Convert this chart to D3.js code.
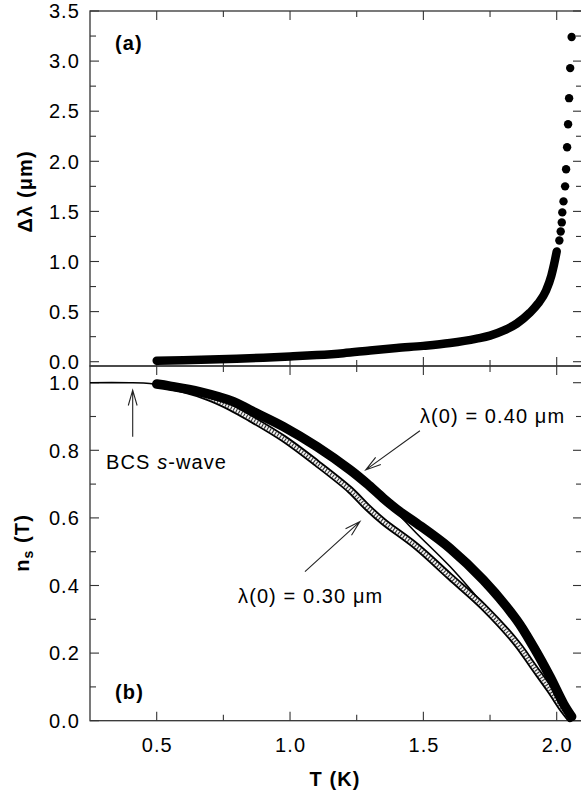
<!DOCTYPE html>
<html><head><meta charset="utf-8">
<script src="https://cdn.jsdelivr.net/npm/d3@7"></script>
<style>
html,body{margin:0;padding:0;background:#fff;}
text{font-family:"Liberation Sans",Arial,sans-serif;fill:#000;letter-spacing:1.1px;}
</style></head>
<body><svg id="c" width="581" height="798"></svg>
<script>
// ---- data ----
// panel (a): dense band of Δλ(T)
const T_a = [0.5,0.6,0.7,0.8,0.9,1.0,1.1,1.2,1.3,1.4,1.5,1.6,1.7,1.75,1.8,1.85,1.9,1.93,1.96,1.98,1.99,2.0];
const dl_a = [0.01,0.015,0.022,0.03,0.04,0.052,0.066,0.085,0.112,0.137,0.158,0.186,0.23,0.26,0.31,0.38,0.49,0.58,0.71,0.86,0.97,1.1];
// panel (a): sparse points near Tc
const T_a2 = [2.01,2.015,2.019,2.021,2.0255,2.0315,2.0352,2.039,2.0427,2.0465,2.0506,2.056];
const dl_a2 = [1.21,1.30,1.39,1.49,1.60,1.75,1.92,2.14,2.37,2.63,2.93,3.24];
// panel (b): BCS s-wave curve
const T_bcs = [0.25,0.4,0.45,0.5,0.6,0.8,1.0,1.2,1.35,1.4125,1.475,1.6,1.7,1.85,1.975,2.06];
const ns_bcs = [1.0,1.0,0.999,0.995,0.982,0.935,0.86,0.75,0.65,0.605,0.554,0.456,0.367,0.229,0.091,0.0];
// panel (b): λ(0) = 0.40 µm (filled)
const T_40 = [0.5,0.55,0.6625,0.7875,0.85,0.975,1.1,1.225,1.2875,1.35,1.4125,1.475,1.6,1.725,1.85,1.9125,1.975,2.025,2.056];
const ns_40 = [0.996,0.99,0.973,0.944,0.919,0.870,0.811,0.742,0.702,0.658,0.618,0.584,0.51,0.416,0.298,0.219,0.13,0.051,0.012];
// panel (b): λ(0) = 0.30 µm (open)
const T_30 = [0.5,0.6,0.7,0.775,0.85,0.975,1.1,1.225,1.2875,1.35,1.475,1.6,1.725,1.85,1.9125,1.975,2.025,2.05];
const ns_30 = [0.995,0.98,0.955,0.928,0.895,0.835,0.762,0.683,0.633,0.589,0.515,0.426,0.337,0.229,0.16,0.091,0.032,0.007];
// ticks
const xMajor = [0.5,1.0,1.5,2.0];
const xMinor = [0.75,1.25,1.75];
const yaMajor = [0,0.5,1.0,1.5,2.0,2.5,3.0,3.5];
const yaMinor = [0.25,0.75,1.25,1.75,2.25,2.75,3.25];
const ybMajor = [0,0.2,0.4,0.6,0.8,1.0];
const ybMinor = [0.1,0.3,0.5,0.7,0.9];

// ---- layout ----
const L = 90, R = 582, topA = 11, mid = 366, botB = 720.7;
const x = d3.scaleLinear().domain([0.5,2.0]).range([156.7,556.7]);
const ya = d3.scaleLinear().domain([0,3.5]).range([361.7,11]);
const yb = d3.scaleLinear().domain([0,1]).range([720.7,382.7]);
const svg = d3.select("#c");
const axisColor = "#333";
const FS = 20;

function frame(top, bottom, yScale, yMaj, yMin, fmt){
  const g = svg.append("g");
  const tk = (x1,y1,x2,y2)=>g.append("line").attr("x1",x1).attr("y1",y1).attr("x2",x2).attr("y2",y2).attr("stroke",axisColor).attr("stroke-width",1.1);
  xMajor.forEach(v=>{ tk(x(v),top,x(v),top+9); tk(x(v),bottom,x(v),bottom-9); });
  xMinor.forEach(v=>{ tk(x(v),top,x(v),top+6); tk(x(v),bottom,x(v),bottom-6); });
  yMaj.forEach(v=>{ tk(L,yScale(v),L+9,yScale(v)); tk(R,yScale(v),R-9,yScale(v)); });
  yMin.forEach(v=>{ tk(L,yScale(v),L+6,yScale(v)); tk(R,yScale(v),R-6,yScale(v)); });
  g.append("rect").attr("x",L).attr("y",top).attr("width",R-L).attr("height",bottom-top)
    .attr("fill","none").attr("stroke",axisColor).attr("stroke-width",1.3);
  yMaj.forEach(v=>{
    g.append("text").attr("x",80).attr("y",yScale(v)).attr("dy","0.36em")
     .attr("text-anchor","end").attr("font-size",FS).text(fmt(v));
  });
}
frame(topA, mid, ya, yaMajor, yaMinor, d3.format(".1f"));
frame(mid, botB, yb, ybMajor, ybMinor, d3.format(".1f"));

// x tick labels
xMajor.forEach(v=>{
  svg.append("text").attr("x",x(v)+0.6).attr("y",752).attr("text-anchor","middle")
    .attr("font-size",FS).text(d3.format(".1f")(v));
});

// clip paths
svg.append("clipPath").attr("id","clipA").append("rect").attr("x",L).attr("y",topA).attr("width",R-L).attr("height",mid-topA);
svg.append("clipPath").attr("id","clipB").append("rect").attr("x",L).attr("y",mid).attr("width",R-L).attr("height",botB-mid+6);

// ---- panel (a) ----
const gA = svg.append("g").attr("clip-path","url(#clipA)");
const lineA = d3.line().x((d,i)=>x(T_a[i])).y((d,i)=>ya(dl_a[i])).curve(d3.curveMonotoneX);
gA.append("path").attr("d",lineA(T_a)).attr("fill","none").attr("stroke","#000")
  .attr("stroke-width",8.5).attr("stroke-linecap","round").attr("stroke-linejoin","round");
gA.selectAll("circle.sp").data(T_a2).join("circle").attr("class","sp")
  .attr("cx",(d)=>x(d)).attr("cy",(d,i)=>ya(dl_a2[i])).attr("r",4.2).attr("fill","#000");

// ---- panel (b) ----
const gB = svg.append("g").attr("clip-path","url(#clipB)");
const mk = (Ts,Vs)=>d3.line().x((d,i)=>x(Ts[i])).y((d,i)=>yb(Vs[i])).curve(d3.curveCatmullRom.alpha(0.5))(Ts);
gB.append("path").attr("d",mk(T_bcs,ns_bcs)).attr("fill","none").attr("stroke","#000").attr("stroke-width",1.6);
const p30 = mk(T_30,ns_30);
gB.append("path").attr("d",p30).attr("fill","none").attr("stroke","#000").attr("stroke-width",7.5)
  .attr("stroke-linecap","round").attr("stroke-linejoin","round");
gB.append("path").attr("d",p30).attr("fill","none").attr("stroke","#f2f2f2").attr("stroke-width",3.8);
gB.append("path").attr("d",p30).attr("fill","none").attr("stroke","#333").attr("stroke-width",3.8)
  .attr("stroke-dasharray","1.1,1.9");
gB.append("path").attr("d",mk(T_40,ns_40)).attr("fill","none").attr("stroke","#000").attr("stroke-width",9.5)
  .attr("stroke-linecap","round").attr("stroke-linejoin","round");

// ---- annotations ----
function arrow(t0,v0,t1,v1){
  const x0=x(t0), y0=yb(v0), x1=x(t1), y1=yb(v1);
  const a = Math.atan2(y1-y0,x1-x0), len=16, ang=0.28;
  const p = `M${x0},${y0}L${x1},${y1}M${x1-len*Math.cos(a-ang)},${y1-len*Math.sin(a-ang)}L${x1},${y1}L${x1-len*Math.cos(a+ang)},${y1-len*Math.sin(a+ang)}`;
  svg.append("path").attr("d",p).attr("fill","none").attr("stroke","#222").attr("stroke-width",1.1);
}
arrow(0.41,0.84,0.41,0.978);
arrow(1.487,0.858,1.284,0.742);
arrow(1.056,0.441,1.262,0.589);

const t1 = svg.append("text").attr("x",x(0.31)).attr("y",yb(0.745)).attr("font-size",FS);
t1.append("tspan").text("BCS ");
t1.append("tspan").attr("font-style","italic").text("s");
t1.append("tspan").text("-wave");
svg.append("text").attr("x",x(1.487)).attr("y",yb(0.88)).attr("font-size",FS).text("λ(0) = 0.40 μm");
svg.append("text").attr("x",x(0.805)).attr("y",yb(0.348)).attr("font-size",FS).text("λ(0) = 0.30 μm");

svg.append("text").attr("x",x(0.344)).attr("y",ya(3.11)).attr("font-size",FS).attr("font-weight","bold").text("(a)");
svg.append("text").attr("x",x(0.344)).attr("y",yb(0.064)).attr("font-size",FS).attr("font-weight","bold").text("(b)");

// axis titles
svg.append("text").attr("transform",`translate(32,${ya(1.7)}) rotate(-90)`).attr("text-anchor","middle")
  .attr("font-size",FS).attr("font-weight","bold").text("Δλ (μm)");
const nt = svg.append("text").attr("transform",`translate(29,${yb(0.526)}) rotate(-90)`).attr("text-anchor","middle")
  .attr("font-size",FS).attr("font-weight","bold");
nt.append("tspan").text("n");
nt.append("tspan").attr("font-size",14).attr("dy",4).text("s");
nt.append("tspan").attr("dy",-4).text(" (T)");
svg.append("text").attr("x",335).attr("y",786).attr("text-anchor","middle")
  .attr("font-size",FS).attr("font-weight","bold").text("T (K)");
</script></body></html>
